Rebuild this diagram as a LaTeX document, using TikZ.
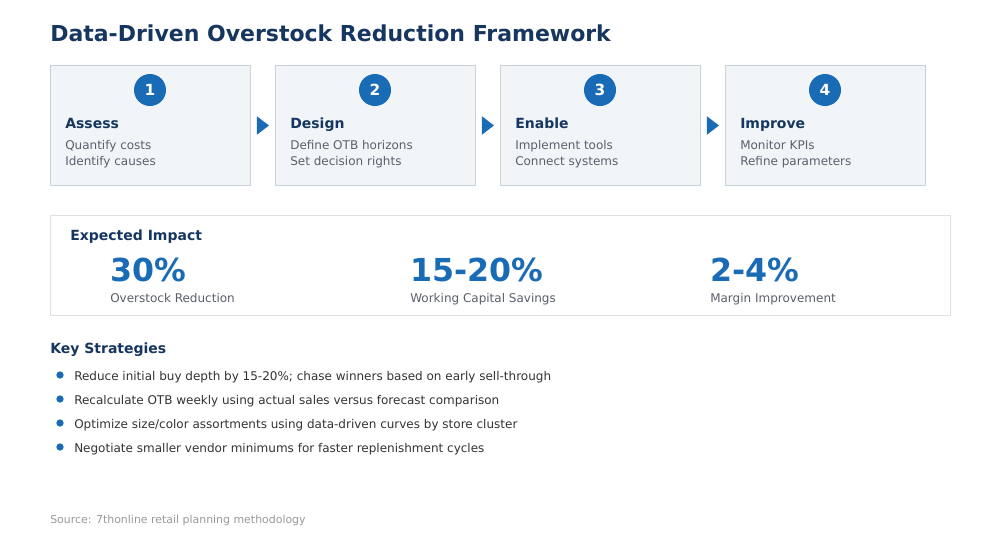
\documentclass[tikz,border=0pt]{standalone}
\usepackage{fontspec}
\setmainfont{DejaVu Sans}
\usetikzlibrary{shapes.geometric,calc}
\definecolor{navy}{HTML}{16365F}
\definecolor{blue}{HTML}{1A6BB5}
\definecolor{boxfill}{HTML}{F2F5F8}
\definecolor{boxline}{HTML}{C9D1D9}
\definecolor{impline}{HTML}{E0E0E0}
\definecolor{bodygray}{HTML}{5A5F6B}
\definecolor{textdark}{HTML}{333333}
\definecolor{srcgray}{HTML}{9A9A9A}
\tikzset{
  px/.style={x=0.75pt,y=-0.75pt},
  stepbox/.style={draw=boxline,fill=boxfill,line width=0.75pt,minimum width=150pt,minimum height=90pt,inner sep=0pt},
  numcircle/.style={circle,fill=blue,text=white,minimum size=24pt,inner sep=0pt,font=\bfseries\fontsize{11.5}{12}\selectfont},
  steptitle/.style={anchor=base west,inner sep=0pt,text=navy,font=\bfseries\fontsize{10.5}{12}\selectfont},
  stepbody/.style={anchor=base west,inner sep=0pt,text=bodygray,font=\fontsize{9}{11}\selectfont},
  flowarrow/.style={isosceles triangle,isosceles triangle apex angle=75,fill=blue,inner sep=0pt,minimum height=9pt,minimum width=12pt},
  bignum/.style={anchor=base west,inner sep=0pt,text=blue,font=\bfseries\fontsize{23.75}{27}\selectfont},
  numlabel/.style={anchor=base west,inner sep=0pt,text=bodygray,font=\fontsize{9}{11}\selectfont},
  bullet/.style={circle,fill=blue,minimum size=5.5pt,inner sep=0pt},
  bullettext/.style={anchor=base west,inner sep=0pt,text=textdark,font=\fontsize{9}{11}\selectfont},
}
\begin{document}
\begin{tikzpicture}[px]
\useasboundingbox[fill=white] (0,0) rectangle (1000,540);
% title
\node[anchor=base west,inner sep=0pt,text=navy,font=\bfseries\fontsize{16.5}{19}\selectfont] (title) at (50,41) {Data-Driven Overstock Reduction Framework};
% step boxes
\foreach \i/\x/\num/\head/\la/\lb in {
  1/50/1/Assess/Quantify costs/Identify causes,
  2/275/2/Design/Define OTB horizons/Set decision rights,
  3/500/3/Enable/Implement tools/Connect systems,
  4/725/4/Improve/Monitor KPIs/Refine parameters}{
  \node[stepbox,anchor=north west] (box\i) at (\x,65) {};
  \node[numcircle] (num\i) at (\x+100,90) {\num};
  \node[steptitle] (head\i) at (\x+15,128) {\head};
  \node[stepbody] (la\i) at (\x+15,149) {\la};
  \node[stepbody] (lb\i) at (\x+15,165) {\lb};
}
\node[flowarrow] (arr1) at ($(box1.east)!0.5!(box2.west)+(-1.5,0)$) {};
\node[flowarrow] (arr2) at ($(box2.east)!0.5!(box3.west)+(-1.5,0)$) {};
\node[flowarrow] (arr3) at ($(box3.east)!0.5!(box4.west)+(-1.5,0)$) {};
% impact
\node[draw=impline,fill=white,line width=0.75pt,anchor=north west,minimum width=675pt,minimum height=75pt,inner sep=0pt] (impact) at (50,215) {};
\node[steptitle] (imptitle) at (70,240) {Expected Impact};
\node[bignum] (n1) at (110,281) {30\%};
\node[numlabel] (l1) at (110,302) {Overstock Reduction};
\node[bignum] (n2) at (410,281) {15-20\%};
\node[numlabel] (l2) at (410,302) {Working Capital Savings};
\node[bignum] (n3) at (710,281) {2-4\%};
\node[numlabel] (l3) at (710,302) {Margin Improvement};
% strategies
\node[steptitle] (ks) at (50,353) {Key Strategies};
\foreach \j/\y/\t in {
  1/375/{Reduce initial buy depth by 15-20\%; chase winners based on early sell-through},
  2/399/{Recalculate OTB weekly using actual sales versus forecast comparison},
  3/423/{Optimize size/color assortments using data-driven curves by store cluster},
  4/447/{Negotiate smaller vendor minimums for faster replenishment cycles}}{
  \node[bullet] (b\j) at (60,\y) {};
  \node[bullettext] (s\j) at (74,\y+5) {\t};
}
% source
\node[anchor=base west,inner sep=0pt,text=srcgray,font=\fontsize{8.2}{10}\selectfont] (src) at (50,523) {Source: 7thonline retail planning methodology};
\end{tikzpicture}
\end{document}
